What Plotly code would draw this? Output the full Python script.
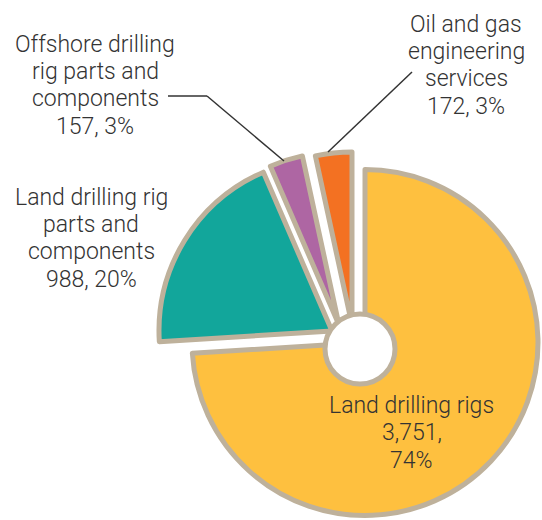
import plotly.graph_objects as go

# Revenue by business segment
categories = [
    "Land drilling rigs",
    "Land drilling rig parts and components",
    "Offshore drilling rig parts and components",
    "Oil and gas engineering services",
]
values = [3751, 988, 157, 172]

# Line-broken names used in the text labels
label_lines = [
    ["Land drilling rigs"],
    ["Land drilling rig", "parts and", "components"],
    ["Offshore drilling", "rig parts and", "components"],
    ["Oil and gas", "engineering", "services"],
]

slice_colors = ["#FEC03F", "#12A69B", "#AE66A3", "#F37122"]
border_color = "#BEB19B"
text_color = "#333333"

W, H = 542, 520
R = 173            # slice radius in px
BORDER = 5

# Exploded slice centres (px) - each slice sits on its own offset
slice_centers = [(365, 342.5), (332, 331), (339, 325), (352, 325)]

# Label anchors: centre x and first-line centre y (px), line step
label_pos = [(411.5, 405.5), (91, 197), (95, 44), (466, 24)]
LINE_STEP = 27.4

# Percentages rounded with the largest-remainder method so they sum to 100
total = sum(values)
raw = [v * 100 / total for v in values]
pcts = [int(r) for r in raw]
order = sorted(range(len(raw)), key=lambda i: raw[i] - int(raw[i]), reverse=True)
for i in order[: 100 - sum(pcts)]:
    pcts[i] += 1

fig = go.Figure()
n = len(values)
for i in range(n):
    colors = ["rgba(0,0,0,0)"] * n
    colors[i] = slice_colors[i]
    widths = [0] * n
    widths[i] = BORDER
    cx, cy = slice_centers[i]
    fig.add_trace(go.Pie(
        values=values,
        labels=categories,
        sort=False,
        direction="clockwise",
        rotation=0,
        marker=dict(colors=colors, line=dict(color=border_color, width=widths)),
        textinfo="none",
        hoverinfo="label+value+percent",
        showlegend=False,
        domain=dict(x=[(cx - R) / W, (cx + R) / W],
                    y=[1 - (cy + R) / H, 1 - (cy - R) / H]),
    ))

# Text labels, one annotation per line
annotations = []
for i in range(n):
    if i == 0:
        lines = label_lines[i] + [f"{values[i]:,},", f"{pcts[i]}%"]
    else:
        lines = label_lines[i] + [f"{values[i]:,}, {pcts[i]}%"]
    x, y0 = label_pos[i]
    for k, line in enumerate(lines):
        annotations.append(dict(
            x=x / W, y=1 - (y0 + k * LINE_STEP) / H,
            xref="paper", yref="paper",
            text=line, showarrow=False,
            xanchor="center", yanchor="middle",
            font=dict(family="Roboto, Liberation Sans, Arial, sans-serif",
                      size=23, weight=300, color=text_color),
        ))

shapes = []
# Leader lines for the two small slices
leaders = [
    [(168, 96), (207, 96), (284, 161)],
    [(412, 72), (328, 152)],
]
for pts in leaders:
    for (xa, ya), (xb, yb) in zip(pts[:-1], pts[1:]):
        shapes.append(dict(type="line", xref="paper", yref="paper",
                           x0=xa / W, y0=1 - ya / H, x1=xb / W, y1=1 - yb / H,
                           line=dict(color="#333333", width=1.5), layer="above"))

# Centre hub
hx, hy, hr = 360, 349, 35
shapes.append(dict(type="circle", xref="paper", yref="paper",
                   x0=(hx - hr) / W, x1=(hx + hr) / W,
                   y0=1 - (hy + hr) / H, y1=1 - (hy - hr) / H,
                   fillcolor="white", line=dict(color=border_color, width=BORDER),
                   layer="above"))

fig.update_layout(
    width=W, height=H,
    margin=dict(l=0, r=0, t=0, b=0),
    paper_bgcolor="white",
    plot_bgcolor="white",
    annotations=annotations,
    shapes=shapes,
)

fig.write_html("out.html")
